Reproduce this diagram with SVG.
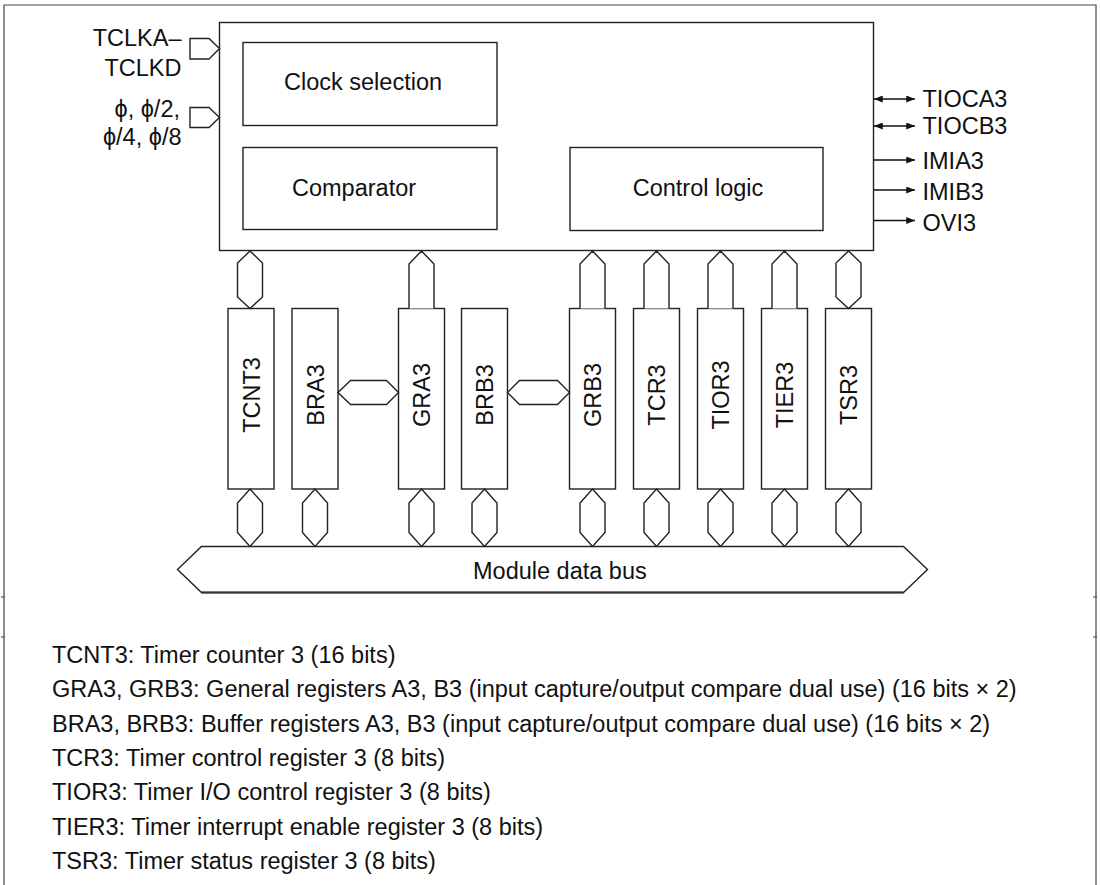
<svg xmlns="http://www.w3.org/2000/svg" width="1100" height="885" viewBox="0 0 1100 885">
<defs>
<marker id="ah" viewBox="0 0 10 8" refX="10" refY="4" markerWidth="9" markerHeight="7" markerUnits="userSpaceOnUse" orient="auto-start-reverse">
<path d="M0,0 L10,4 L0,8 Z" fill="#111"/>
</marker>
</defs>
<style>
.t{font-family:"Liberation Sans",Arial,sans-serif;font-size:23.5px;fill:#111}
.s{fill:#fff;stroke:#222;stroke-width:1.4}
.n{fill:none;stroke:#222;stroke-width:1.4}
.f{fill:none;stroke:#444;stroke-width:1.2}
.w{stroke:#111;stroke-width:1.4;fill:none}
</style>
<rect width="1100" height="885" fill="#fff"/>
<g id="frame">
<path class="f" d="M4,885 V5 H1096 V885"/>
<path class="f" d="M1,597 H5 M1,637 H5 M1093,597 H1097 M1093,637 H1097"/>
</g>
<g id="main-block">
<rect class="s" x="219.5" y="22.5" width="654" height="228" stroke-width="1.5"/>
</g>
<g id="clock-selection">
<rect class="s" x="243" y="42.5" width="254" height="83"/>
<text class="t" x="284" y="90">Clock selection</text>
</g>
<g id="comparator">
<rect class="s" x="243" y="147.5" width="254" height="82"/>
<text class="t" x="292" y="196">Comparator</text>
</g>
<g id="control-logic">
<rect class="s" x="570" y="147.5" width="253" height="83"/>
<text class="t" x="698" y="196" text-anchor="middle">Control logic</text>
</g>
<g id="inputs">
<text class="t" x="181.5" y="46" text-anchor="end">TCLKA–</text>
<text class="t" x="181.5" y="76" text-anchor="end">TCLKD</text>
<text class="t" x="180" y="117" text-anchor="end">ϕ, ϕ/2,</text>
<text class="t" x="181.5" y="145" text-anchor="end">ϕ/4, ϕ/8</text>
</g>
<g id="outputs">
<text class="t" x="922.5" y="106.7">TIOCA3</text>
<text class="t" x="922.5" y="134.3">TIOCB3</text>
<text class="t" x="922.5" y="169.3">IMIA3</text>
<text class="t" x="922.5" y="199.5">IMIB3</text>
<text class="t" x="922.5" y="230.5">OVI3</text>
</g>
<g id="registers">
<g id="TCNT3"><rect class="s" x="228" y="308.5" width="46" height="180.5"/><text class="t" text-anchor="middle" transform="translate(259.5,395) rotate(-90)">TCNT3</text></g>
<g id="BRA3"><rect class="s" x="292" y="308.5" width="46" height="180.5"/><text class="t" text-anchor="middle" transform="translate(323.5,395) rotate(-90)">BRA3</text></g>
<g id="GRA3"><rect class="s" x="398.5" y="308.5" width="46" height="180.5"/><text class="t" text-anchor="middle" transform="translate(430,395) rotate(-90)">GRA3</text></g>
<g id="BRB3"><rect class="s" x="461.5" y="308.5" width="46" height="180.5"/><text class="t" text-anchor="middle" transform="translate(493,395) rotate(-90)">BRB3</text></g>
<g id="GRB3"><rect class="s" x="569.5" y="308.5" width="46" height="180.5"/><text class="t" text-anchor="middle" transform="translate(601,395) rotate(-90)">GRB3</text></g>
<g id="TCR3"><rect class="s" x="633.5" y="308.5" width="46" height="180.5"/><text class="t" text-anchor="middle" transform="translate(665,395) rotate(-90)">TCR3</text></g>
<g id="TIOR3"><rect class="s" x="697.5" y="308.5" width="46" height="180.5"/><text class="t" text-anchor="middle" transform="translate(729,395) rotate(-90)">TIOR3</text></g>
<g id="TIER3"><rect class="s" x="761.5" y="308.5" width="46" height="180.5"/><text class="t" text-anchor="middle" transform="translate(793,395) rotate(-90)">TIER3</text></g>
<g id="TSR3"><rect class="s" x="825.5" y="308.5" width="46" height="180.5"/><text class="t" text-anchor="middle" transform="translate(857,395) rotate(-90)">TSR3</text></g>
</g>
<g id="module-data-bus">
<polygon class="s" points="177.5,569.5 201.5,546.5 903.5,546.5 927.5,569.5 903.5,592.5 201.5,592.5"/>
<path d="M201.5,592.5 H903.5" stroke="#333" stroke-width="2"/>
<text class="t" x="473" y="579.3">Module data bus</text>
</g>
<g id="connectors">
<polygon class="s" points="190,38.5 209,38.5 219.5,48.5 209,59 190,59"/>
<polygon class="s" points="190,107.5 209,107.5 219.5,117.5 209,127.5 190,127.5"/>
<line class="w" x1="874" y1="99" x2="915" y2="99" marker-start="url(#ah)" marker-end="url(#ah)"/>
<line class="w" x1="874" y1="126" x2="915" y2="126" marker-start="url(#ah)" marker-end="url(#ah)"/>
<line class="w" x1="874" y1="160" x2="915" y2="160" marker-end="url(#ah)"/>
<line class="w" x1="874" y1="190" x2="915" y2="190" marker-end="url(#ah)"/>
<line class="w" x1="874" y1="220.5" x2="915" y2="220.5" marker-end="url(#ah)"/>
<polygon class="s" points="250,251 262.5,263 262.5,297 250,308.5 237.5,297 237.5,263"/>
<polygon class="s" points="848.5,251 861,263 861,297 848.5,308.5 836,297 836,263"/>
<polyline class="s" points="409,308.5 409,264 421.5,251 434,264 434,308.5"/>
<polyline class="s" points="580,308.5 580,264 592.5,251 605,264 605,308.5"/>
<polyline class="s" points="644,308.5 644,264 656.5,251 669,264 669,308.5"/>
<polyline class="s" points="708,308.5 708,264 720.5,251 733,264 733,308.5"/>
<polyline class="s" points="772,308.5 772,264 784.5,251 797,264 797,308.5"/>
<polygon class="s" points="338,392.5 350.5,380.5 386.5,380.5 398.5,392.5 386.5,404.5 350.5,404.5"/>
<polygon class="s" points="507.5,392.5 519.5,380.5 557.5,380.5 569.5,392.5 557.5,404.5 519.5,404.5"/>
<polygon class="s" points="250,489 262.5,503 262.5,532.5 250,546.5 237.5,532.5 237.5,503"/>
<polygon class="s" points="315,489 327.5,503 327.5,532.5 315,546.5 302.5,532.5 302.5,503"/>
<polygon class="s" points="421.5,489 434,503 434,532.5 421.5,546.5 409,532.5 409,503"/>
<polygon class="s" points="484.5,489 497,503 497,532.5 484.5,546.5 472,532.5 472,503"/>
<polygon class="s" points="592.5,489 605,503 605,532.5 592.5,546.5 580,532.5 580,503"/>
<polygon class="s" points="656.5,489 669,503 669,532.5 656.5,546.5 644,532.5 644,503"/>
<polygon class="s" points="720.5,489 733,503 733,532.5 720.5,546.5 708,532.5 708,503"/>
<polygon class="s" points="784.5,489 797,503 797,532.5 784.5,546.5 772,532.5 772,503"/>
<polygon class="s" points="848.5,489 861,503 861,532.5 848.5,546.5 836,532.5 836,503"/>
</g>
<g id="legend">
<text class="t" x="52" y="663">TCNT3: Timer counter 3 (16 bits)</text>
<text class="t" x="52" y="697.3">GRA3, GRB3: General registers A3, B3 (input capture/output compare dual use) (16 bits × 2)</text>
<text class="t" x="52" y="731.6">BRA3, BRB3: Buffer registers A3, B3 (input capture/output compare dual use) (16 bits × 2)</text>
<text class="t" x="52" y="765.9">TCR3: Timer control register 3 (8 bits)</text>
<text class="t" x="52" y="800.2">TIOR3: Timer I/O control register 3 (8 bits)</text>
<text class="t" x="52" y="834.5">TIER3: Timer interrupt enable register 3 (8 bits)</text>
<text class="t" x="52" y="868.8">TSR3: Timer status register 3 (8 bits)</text>
</g>
</svg>
